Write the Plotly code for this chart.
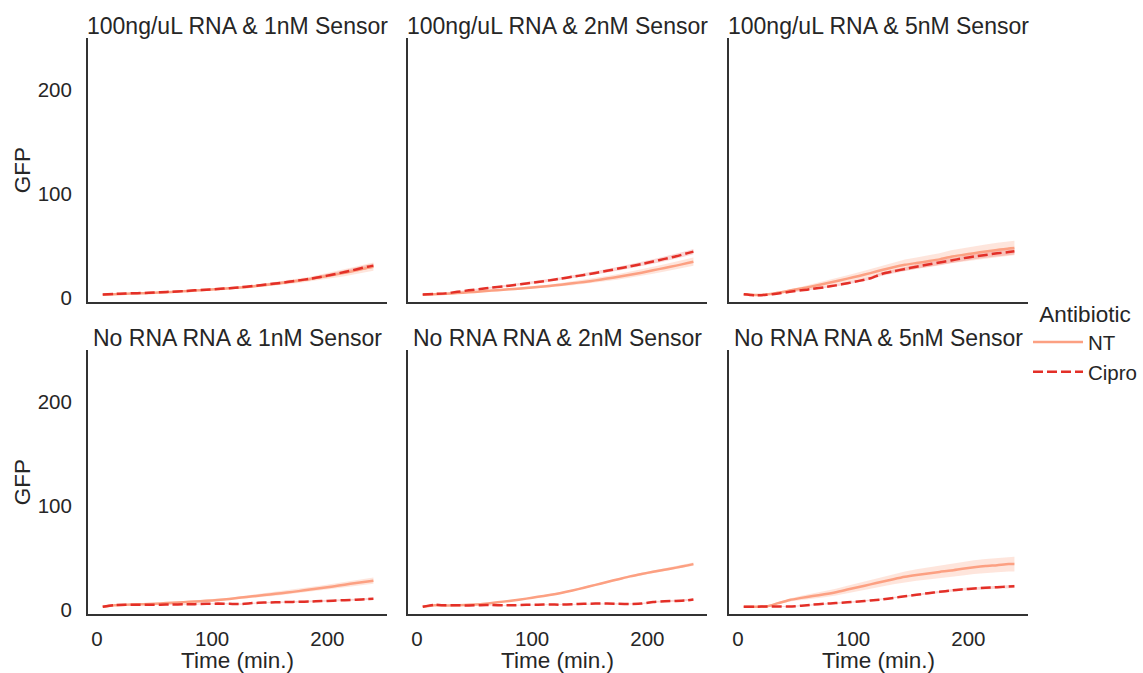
import plotly.graph_objects as go

TIME = [5, 15, 25, 35, 45, 55, 65, 75, 85, 95, 105, 115, 125, 135, 145, 155,
        165, 175, 185, 195, 205, 215, 225, 235, 240]
RNA = ["100ng/uL", "No RNA"]
SENSOR = ["1nM", "2nM", "5nM"]
ANTIBIOTICS = ["NT", "Cipro"]
X_TICKS = [0, 100, 200]
Y_TICKS = [0, 100, 200]

# mean GFP per panel (rows: RNA, cols: sensor)
nt_100_1 = [3, 3.5, 4, 4.3, 4.7, 5.2, 5.7, 6.3, 7, 7.7, 8.4, 9.2, 10, 11, 12.2, 13.5,
            15, 16.5, 18, 20, 22, 24, 26.5, 29, 30]
cipro_100_1 = [3.2, 3.8, 4.2, 4.5, 4.9, 5.4, 5.9, 6.5, 7.2, 7.9, 8.5, 9.3, 10.2, 11.3,
               12.5, 13.8, 15.2, 16.8, 18.3, 20.3, 22.5, 24.8, 27.3, 30, 31]
nt_100_2 = [3, 3.5, 4, 4.6, 5.3, 6.1, 7, 7.8, 8.6, 9.5, 10.5, 11.5, 12.7, 14, 15.3,
            16.8, 18.5, 20.3, 22.2, 24.2, 26.5, 28.8, 31, 33.5, 34.8]
cipro_100_2 = [3.2, 3.8, 4.3, 5.8, 7.2, 8.5, 9.8, 11, 12.4, 13.8, 15.2, 16.8, 18.5,
               20.3, 22, 24, 26, 28.2, 30.3, 32.5, 35, 37.5, 40, 43, 44.5]
nt_100_5 = [3.5, 2.8, 3.3, 5, 7, 9, 11.2, 13.5, 16, 18.5, 21, 23.8, 26.8, 29.5, 31.8,
            33.5, 35.2, 37, 39.5, 41.3, 43, 44.5, 46, 47.5, 48]
cipro_100_5 = [3.5, 2.5, 2.9, 4.2, 5.8, 7.2, 8.6, 10.2, 12, 14, 16.3, 18.8, 23, 25.5,
               27.8, 30, 32, 34, 36, 38, 39.8, 41.3, 42.8, 44, 44.8]
nt_no_1 = [3, 4.5, 5, 5.3, 5.7, 6.2, 6.8, 7.4, 8, 8.7, 9.5, 10.5, 11.8, 13, 14.2, 15.4,
           16.6, 18, 19.5, 21, 22.5, 24.2, 25.8, 27.3, 28]
cipro_no_1 = [3, 4.5, 4.8, 4.8, 4.9, 5, 5.1, 5.3, 5.5, 5.8, 6, 5.8, 5.6, 6.5, 7, 7.2,
              7.5, 7.8, 8, 8.4, 8.8, 9.3, 9.8, 10.3, 10.6]
nt_no_2 = [3, 4.5, 4.2, 4.3, 4.8, 5.5, 6.6, 7.9, 9.3, 10.8, 12.5, 14.2, 16.2, 18.6,
           21.3, 24, 26.8, 29.5, 32.2, 34.5, 36.6, 38.6, 40.6, 42.8, 44]
cipro_no_2 = [3, 4.8, 4.3, 4.5, 4.2, 4.5, 4.6, 4.3, 4.5, 4.8, 5, 5.2, 5, 5.4, 5.8, 6,
              6.1, 5.8, 5.6, 6, 7.6, 8.3, 8.6, 9.2, 10]
nt_no_5 = [3, 3, 3.3, 6.5, 9.5, 11.5, 13.3, 15, 17, 19.5, 22, 24.5, 27, 29.5, 31.8,
           33.5, 35, 36.5, 37.8, 39.5, 41, 42.2, 43, 44, 44]
cipro_no_5 = [3, 3, 3.2, 3.3, 3.2, 4, 5, 5.8, 6.5, 7.2, 8, 9, 10, 11.5, 13, 14.5, 16,
              17.3, 18.6, 19.8, 20.5, 21.2, 21.8, 22.4, 22.6]

# confidence-band half widths
nt_100_1_ci = [0.3, 0.3, 0.4, 0.4, 0.5, 0.5, 0.6, 0.6, 0.7, 0.8, 0.9, 1, 1.1, 1.3, 1.5,
               1.7, 1.9, 2.1, 2.4, 2.7, 3, 3.3, 3.6, 3.9, 4]
cipro_100_1_ci = [0.3, 0.3, 0.3, 0.3, 0.4, 0.4, 0.4, 0.5, 0.5, 0.5, 0.6, 0.6, 0.7, 0.8,
                  0.9, 1, 1.1, 1.2, 1.3, 1.4, 1.5, 1.7, 1.8, 2, 2]
nt_100_2_ci = [0.4, 0.4, 0.5, 0.5, 0.6, 0.7, 0.8, 0.9, 1, 1.1, 1.2, 1.4, 1.6, 1.8, 2,
               2.2, 2.4, 2.7, 2.9, 3.1, 3.3, 3.5, 3.7, 3.9, 4]
cipro_100_2_ci = [0.4, 0.4, 0.5, 0.5, 0.6, 0.7, 0.8, 0.8, 0.9, 1, 1.1, 1.2, 1.3, 1.4,
                  1.5, 1.6, 1.7, 1.8, 1.9, 2, 2.1, 2.2, 2.3, 2.4, 2.5]
nt_100_5_ci = [0.5, 0.5, 0.6, 0.8, 1.2, 1.6, 2, 2.4, 2.8, 3.2, 3.6, 4, 4.4, 4.8, 5.1,
               5.4, 5.7, 6, 6.2, 6.4, 6.6, 6.8, 6.9, 7, 7]
cipro_100_5_ci = [0.5, 0.5, 0.5, 0.6, 0.7, 0.8, 0.9, 1, 1.1, 1.2, 1.4, 1.5, 1.7, 1.8, 2,
                  2.1, 2.3, 2.4, 2.5, 2.6, 2.7, 2.8, 2.9, 3, 3]
nt_no_1_ci = [0.4, 0.4, 0.5, 0.5, 0.6, 0.6, 0.7, 0.8, 0.9, 1, 1.1, 1.2, 1.3, 1.5, 1.6,
              1.8, 1.9, 2.1, 2.2, 2.4, 2.5, 2.7, 2.8, 3, 3]
cipro_no_1_ci = [0.3, 0.3, 0.3, 0.3, 0.4, 0.4, 0.4, 0.4, 0.5, 0.5, 0.5, 0.5, 0.6, 0.6,
                 0.6, 0.7, 0.7, 0.7, 0.8, 0.8, 0.8, 0.9, 0.9, 1, 1]
nt_no_2_ci = [0.4, 0.4, 0.4, 0.4, 0.5, 0.5, 0.6, 0.6, 0.7, 0.7, 0.8, 0.8, 0.9, 0.9, 1,
              1, 1.1, 1.1, 1.2, 1.2, 1.3, 1.3, 1.4, 1.5, 1.5]
cipro_no_2_ci = [0.3, 0.3, 0.3, 0.3, 0.3, 0.4, 0.4, 0.4, 0.4, 0.5, 0.5, 0.5, 0.5, 0.5,
                 0.6, 0.6, 0.6, 0.6, 0.6, 0.7, 0.7, 0.7, 0.8, 0.8, 0.8]
nt_no_5_ci = [0.5, 0.5, 0.6, 1, 1.5, 2, 2.4, 2.8, 3.2, 3.6, 4, 4.3, 4.6, 4.9, 5.2, 5.5,
              5.8, 6, 6.2, 6.4, 6.6, 6.8, 6.9, 7, 7]
cipro_no_5_ci = [0.3, 0.3, 0.3, 0.3, 0.4, 0.4, 0.5, 0.5, 0.6, 0.6, 0.7, 0.7, 0.8, 0.8,
                 0.9, 0.9, 1, 1.1, 1.1, 1.2, 1.3, 1.3, 1.4, 1.5, 1.5]

PANELS = [
    (nt_100_1, nt_100_1_ci, cipro_100_1, cipro_100_1_ci),
    (nt_100_2, nt_100_2_ci, cipro_100_2, cipro_100_2_ci),
    (nt_100_5, nt_100_5_ci, cipro_100_5, cipro_100_5_ci),
    (nt_no_1, nt_no_1_ci, cipro_no_1, cipro_no_1_ci),
    (nt_no_2, nt_no_2_ci, cipro_no_2, cipro_no_2_ci),
    (nt_no_5, nt_no_5_ci, cipro_no_5, cipro_no_5_ci),
]

COLORS = {"NT": "#fca082", "Cipro": "#e32f27"}
BANDS = {"NT": "rgba(252,160,130,0.28)", "Cipro": "rgba(227,47,39,0.2)"}
DASH = {"NT": "solid", "Cipro": "10px,4px"}

FONT = "Liberation Sans, Arial, sans-serif"
TXT = "#262626"
W, H = 1143, 673
COL_PX = [(88, 387), (408, 707), (729, 1028)]
ROW_PX = [(38, 302), (350, 614)]
TICK_SIZE = 20.5
LABEL_SIZE = 22.5
TITLE_SIZE = 23

fig = go.Figure()
layout = {}
annotations = []

for i, (nt, nt_ci, cp, cp_ci) in enumerate(PANELS):
    r, c = divmod(i, 3)
    n = i + 1
    xa = "x" if n == 1 else f"x{n}"
    ya = "y" if n == 1 else f"y{n}"
    for ab, mean, ci in (("NT", nt, nt_ci), ("Cipro", cp, cp_ci)):
        hi = [m + e for m, e in zip(mean, ci)]
        lo = [m - e for m, e in zip(mean, ci)]
        fig.add_trace(go.Scatter(
            x=TIME + TIME[::-1], y=hi + lo[::-1], fill="toself",
            fillcolor=BANDS[ab], line=dict(width=0), mode="lines",
            hoverinfo="skip", showlegend=False, xaxis=xa, yaxis=ya))
    for ab, mean in (("NT", nt), ("Cipro", cp)):
        fig.add_trace(go.Scatter(
            x=TIME, y=mean, mode="lines", name=ab, legendgroup=ab,
            showlegend=(i == 0), line_shape="spline",
            line=dict(color=COLORS[ab], width=2.5, dash=DASH[ab], smoothing=0.6),
            xaxis=xa, yaxis=ya))

    x0, x1 = COL_PX[c]
    y0, y1 = ROW_PX[r]
    common = dict(showline=True, linecolor="#333333", linewidth=2, showgrid=False,
                  zeroline=False, ticks="outside", tickcolor="rgba(0,0,0,0)",
                  automargin=False,
                  tickfont=dict(family=FONT, size=TICK_SIZE, color=TXT))
    layout["xaxis" if n == 1 else f"xaxis{n}"] = dict(
        common, domain=[x0 / W, x1 / W], range=[-7.8, 251.8],
        tickvals=X_TICKS, ticklen=5, anchor=ya,
        showticklabels=(r == 1),
        title=dict(text="Time (min.)" if r == 1 else "", standoff=2,
                   font=dict(family=FONT, size=LABEL_SIZE, color=TXT)))
    layout["yaxis" if n == 1 else f"yaxis{n}"] = dict(
        common, domain=[1 - y1 / H, 1 - y0 / H], range=[-4, 250],
        tickvals=Y_TICKS, ticklen=10, anchor=xa,
        showticklabels=(c == 0),
        title=dict(text="GFP" if c == 0 else "", standoff=1,
                   font=dict(family=FONT, size=LABEL_SIZE, color=TXT)))
    annotations.append(dict(
        text=f"{RNA[r]} RNA & {SENSOR[c]} Sensor", x=(x0 + x1) / 2 / W,
        y=1 - (y0 + 3) / H, xref="paper", yref="paper", xanchor="center",
        yanchor="bottom", showarrow=False,
        font=dict(family=FONT, size=TITLE_SIZE, color=TXT)))

fig.update_layout(
    **layout,
    annotations=annotations,
    width=W, height=H,
    margin=dict(l=0, r=0, t=0, b=0, autoexpand=False),
    paper_bgcolor="white", plot_bgcolor="white",
    font=dict(family=FONT, color=TXT),
    legend=dict(x=1028 / W, xanchor="left", y=1 - 293 / H, yanchor="top",
                title=dict(text="Antibiotic", side="top center",
                           font=dict(family=FONT, size=LABEL_SIZE, color=TXT)),
                font=dict(family=FONT, size=TICK_SIZE, color=TXT),
                itemwidth=50,
                bgcolor="rgba(0,0,0,0)", tracegroupgap=0),
)

fig.write_html("out.html")
